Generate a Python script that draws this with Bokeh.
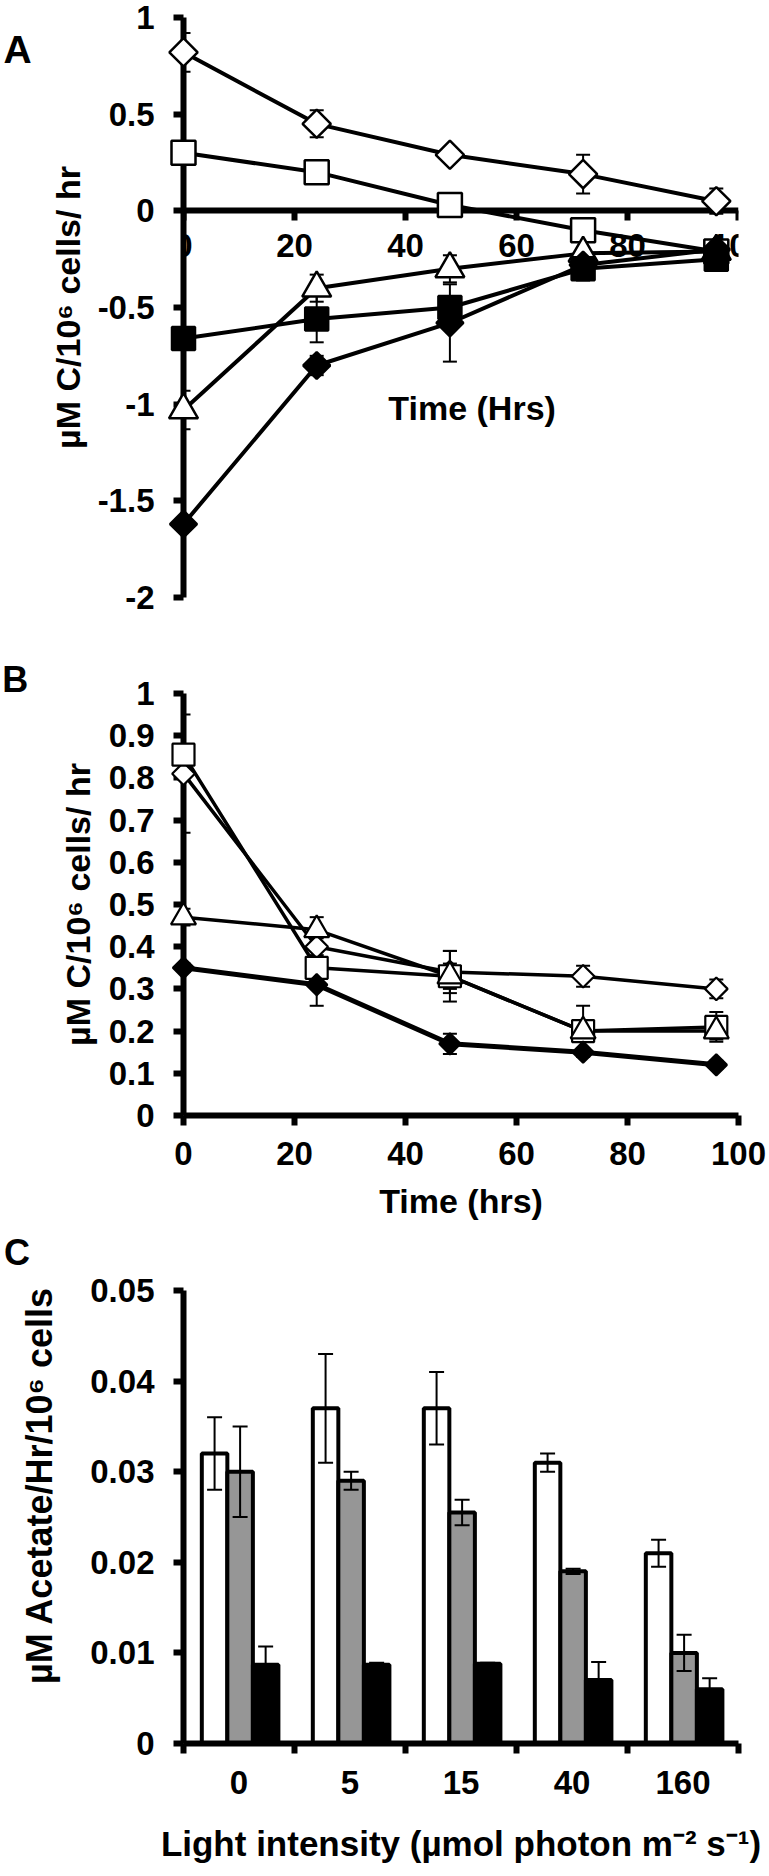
from math import pi
from bokeh.plotting import figure
from bokeh.models import ColumnDataSource, FixedTicker, Range1d, Whisker, TeeHead, Label
from bokeh.core.properties import value
from bokeh.layouts import column
from bokeh.embed import file_html
from bokeh.resources import INLINE

FONT = "Liberation Sans"

# ---------------- Panel A data ----------------
time_a = [0, 24, 48, 72, 96]
a_open_diamond = [0.82, 0.45, 0.29, 0.19, 0.05]
a_open_diamond_err = [0.10, 0.07, 0.02, 0.10, 0.065]
a_open_square = [0.30, 0.20, 0.03, -0.10, -0.21]
a_open_square_err = [0.02, 0.02, 0.02, 0.02, 0.02]
a_open_triangle = [-1.03, -0.40, -0.30, -0.22, -0.21]
a_open_triangle_err = [0.10, 0.07, 0.07, 0.03, 0.03]
a_filled_square = [-0.66, -0.56, -0.50, -0.30, -0.25]
a_filled_square_err = [0.02, 0.12, 0.03, 0.06, 0.02]
a_filled_diamond = [-1.62, -0.80, -0.58, -0.28, -0.20]
a_filled_diamond_err = [0.03, 0.05, 0.20, 0.03, 0.02]
a_xticks = [0, 20, 40, 60, 80, 100]
a_yticks = [-2, -1.5, -1, -0.5, 0, 0.5, 1]
a_ylabels = ["-2", "-1.5", "-1", "-0.5", "0", "0.5", "1"]

# ---------------- Panel B data ----------------
time_b = [0, 24, 48, 72, 96]
b_open_diamond = [0.81, 0.40, 0.34, 0.33, 0.30]
b_open_diamond_err = [0.14, 0.02, 0.05, 0.025, 0.022]
b_open_square = [0.855, 0.35, 0.33, 0.20, 0.21]
b_open_square_err = [0.02, 0.02, 0.03, 0.06, 0.035]
b_open_triangle = [0.47, 0.44, 0.33, 0.20, 0.20]
b_open_triangle_err = [0.02, 0.03, 0.06, 0.02, 0.02]
b_filled_diamond = [0.35, 0.31, 0.17, 0.15, 0.12]
b_filled_diamond_err = [0.01, 0.05, 0.024, 0.01, 0.01]
b_xticks = [0, 20, 40, 60, 80, 100]
b_yticks = [0, 0.1, 0.2, 0.3, 0.4, 0.5, 0.6, 0.7, 0.8, 0.9, 1]
b_ylabels = ["0", "0.1", "0.2", "0.3", "0.4", "0.5", "0.6", "0.7", "0.8", "0.9", "1"]

# ---------------- Panel C data ----------------
light = ["0", "5", "15", "40", "160"]
c_white = [0.032, 0.037, 0.037, 0.031, 0.021]
c_white_err = [0.004, 0.006, 0.004, 0.001, 0.0015]
c_gray = [0.030, 0.029, 0.0255, 0.019, 0.010]
c_gray_err = [0.005, 0.001, 0.0014, 0.0003, 0.002]
c_black = [0.0087, 0.0087, 0.0088, 0.007, 0.006]
c_black_err = [0.002, 0.0002, 0.0001, 0.002, 0.0012]
c_yticks = [0, 0.01, 0.02, 0.03, 0.04, 0.05]
c_ylabels = ["0", "0.01", "0.02", "0.03", "0.04", "0.05"]


def style_axis(ax, label_standoff, title_size="34px"):
    ax.axis_line_width = 6
    ax.axis_line_color = "black"
    ax.major_tick_line_width = 6
    ax.major_tick_line_color = "black"
    ax.major_tick_out = 10
    ax.major_tick_in = 0
    ax.minor_tick_line_color = None
    ax.major_label_text_font = FONT
    ax.major_label_text_font_size = "33px"
    ax.major_label_text_font_style = "bold"
    ax.major_label_text_color = "black"
    ax.major_label_standoff = label_standoff
    ax.axis_label_text_font = FONT
    ax.axis_label_text_font_size = title_size
    ax.axis_label_text_font_style = "bold"
    ax.axis_label_text_color = "black"


def base_fig(height, x_range, y_range, top, bottom):
    p = figure(width=769, height=height, x_range=x_range, y_range=y_range,
               output_backend="svg", toolbar_location=None,
               min_border_left=183, min_border_right=31,
               min_border_top=top, min_border_bottom=bottom)
    p.grid.visible = False
    p.outline_line_color = None
    p.background_fill_color = "white"
    p.border_fill_color = "white"
    return p


def free_text(p, x, y, text, size="34px", angle=0):
    p.text(x=[x], y=[y], text=[text], angle=angle, text_font=value(FONT),
           text_font_size=value(size), text_font_style="bold", text_align="center",
           text_baseline="middle", text_color="black", level="annotation")


def add_series(p, xs, ys, errs, marker, fill, size, angle, lw, mlw):
    src = ColumnDataSource(dict(x=xs, y=ys,
                                upper=[a + b for a, b in zip(ys, errs)],
                                lower=[a - b for a, b in zip(ys, errs)]))
    p.add_layout(Whisker(source=src, base="x", upper="upper", lower="lower",
                         line_width=2, line_color="black", level="underlay",
                         upper_head=TeeHead(size=14, line_width=2, line_color="black"),
                         lower_head=TeeHead(size=14, line_width=2, line_color="black")))
    p.line("x", "y", source=src, line_width=lw, line_color="black")
    p.scatter("x", "y", source=src, marker=marker, size=size, angle=angle,
              fill_color=fill, line_color="black", line_width=mlw, level="annotation")


# ---------------- Panel A ----------------
pA = base_fig(650, Range1d(0, 100), Range1d(-2, 1), 17, 53)
pA.xaxis.ticker = FixedTicker(ticks=a_xticks)
pA.xaxis.fixed_location = 0
pA.yaxis.ticker = FixedTicker(ticks=a_yticks)
pA.yaxis.major_label_overrides = dict(zip(a_yticks, a_ylabels))
style_axis(pA.xaxis[0], 13)
style_axis(pA.yaxis[0], 19)
pA.yaxis.axis_label = "\u00b5M C/10\u2076 cells/ hr"
pA.yaxis.axis_label_standoff = 8

add_series(pA, time_a, a_open_diamond, a_open_diamond_err, "square", "white", 20, pi / 4, 4, 2.5)
add_series(pA, time_a, a_open_square, a_open_square_err, "square", "white", 24, 0, 4, 2.5)
add_series(pA, time_a, a_open_triangle, a_open_triangle_err, "triangle", "white", 29, 0, 4, 2.5)
add_series(pA, time_a, a_filled_square, a_filled_square_err, "square", "black", 23, 0, 4, 2.5)
add_series(pA, time_a, a_filled_diamond, a_filled_diamond_err, "square", "black", 19, pi / 4, 4, 2.5)

pA.add_layout(Label(x=52, y=-1.02, text="Time (Hrs)", text_font=FONT, text_font_size="34px",
                    text_font_style="bold", text_align="center", text_baseline="middle",
                    text_color="black"))
free_text(pA, -29.9, 0.833, "A", size="39px")

# ---------------- Panel B ----------------
pB = base_fig(581, Range1d(0, 100), Range1d(0, 1), 43, 116)
pB.xaxis.ticker = FixedTicker(ticks=b_xticks)
pB.yaxis.ticker = FixedTicker(ticks=b_yticks)
pB.yaxis.major_label_overrides = dict(zip(b_yticks, b_ylabels))
style_axis(pB.xaxis[0], 16)
style_axis(pB.yaxis[0], 19)
pB.xaxis.axis_label = "Time (hrs)"
pB.xaxis.axis_label_standoff = 14
pB.yaxis.axis_label = "\u00b5M C/10\u2076 cells/ hr"
pB.yaxis.axis_label_standoff = 9

add_series(pB, time_b, b_open_diamond, b_open_diamond_err, "square", "white", 16, pi / 4, 3.5, 2.2)
add_series(pB, time_b, b_open_square, b_open_square_err, "square", "white", 22, 0, 3.5, 2.2)
add_series(pB, time_b, b_open_triangle, b_open_triangle_err, "triangle", "white", 25, 0, 3.5, 2.2)
add_series(pB, time_b, b_filled_diamond, b_filled_diamond_err, "square", "black", 15, pi / 4, 5, 2.2)
free_text(pB, -30.3, 1.033, "B", size="36px")

# ---------------- Panel C ----------------
pC = base_fig(637, Range1d(0, 5), Range1d(0, 0.05), 59, 125)
centers = [i + 0.5 for i in range(len(light))]
pC.xaxis.ticker = FixedTicker(ticks=centers, minor_ticks=list(range(len(light) + 1)))
pC.xaxis.major_label_overrides = dict(zip(centers, light))
pC.yaxis.ticker = FixedTicker(ticks=c_yticks)
pC.yaxis.major_label_overrides = dict(zip(c_yticks, c_ylabels))
style_axis(pC.xaxis[0], 17, "35px")
style_axis(pC.yaxis[0], 19)
pC.xaxis.major_tick_line_color = None
pC.xaxis.minor_tick_line_color = "black"
pC.xaxis.minor_tick_line_width = 6
pC.xaxis.minor_tick_out = 10
pC.xaxis.minor_tick_in = 0
pC.xaxis.axis_label = "Light intensity (\u00b5mol photon m\u207b\u00b2 s\u207b\u00b9)"
pC.xaxis.axis_label_standoff = 27

bar_w = 0.23
for vals, errs, fill, off in [(c_white, c_white_err, "white", -0.22),
                              (c_gray, c_gray_err, "#969696", 0.01),
                              (c_black, c_black_err, "black", 0.24)]:
    xs = [c + off for c in centers]
    src = ColumnDataSource(dict(x=xs, top=vals,
                                upper=[a + b for a, b in zip(vals, errs)],
                                lower=[a - b for a, b in zip(vals, errs)]))
    pC.vbar(x="x", top="top", bottom=0, width=bar_w, source=src,
            fill_color=fill, line_color="black", line_width=4)
    pC.add_layout(Whisker(source=src, base="x", upper="upper", lower="lower",
                          line_width=2, line_color="black", level="annotation",
                          upper_head=TeeHead(size=15, line_width=2, line_color="black"),
                          lower_head=TeeHead(size=15, line_width=2, line_color="black")))

free_text(pC, -1.3, 0.0285, "\u00b5M Acetate/Hr/10\u2076 cells", size="36px", angle=pi / 2)
free_text(pC, -1.5, 0.0542, "C", size="36px")

layout = column(pA, pB, pC)
open("out.html", "w").write(file_html(layout, INLINE))
